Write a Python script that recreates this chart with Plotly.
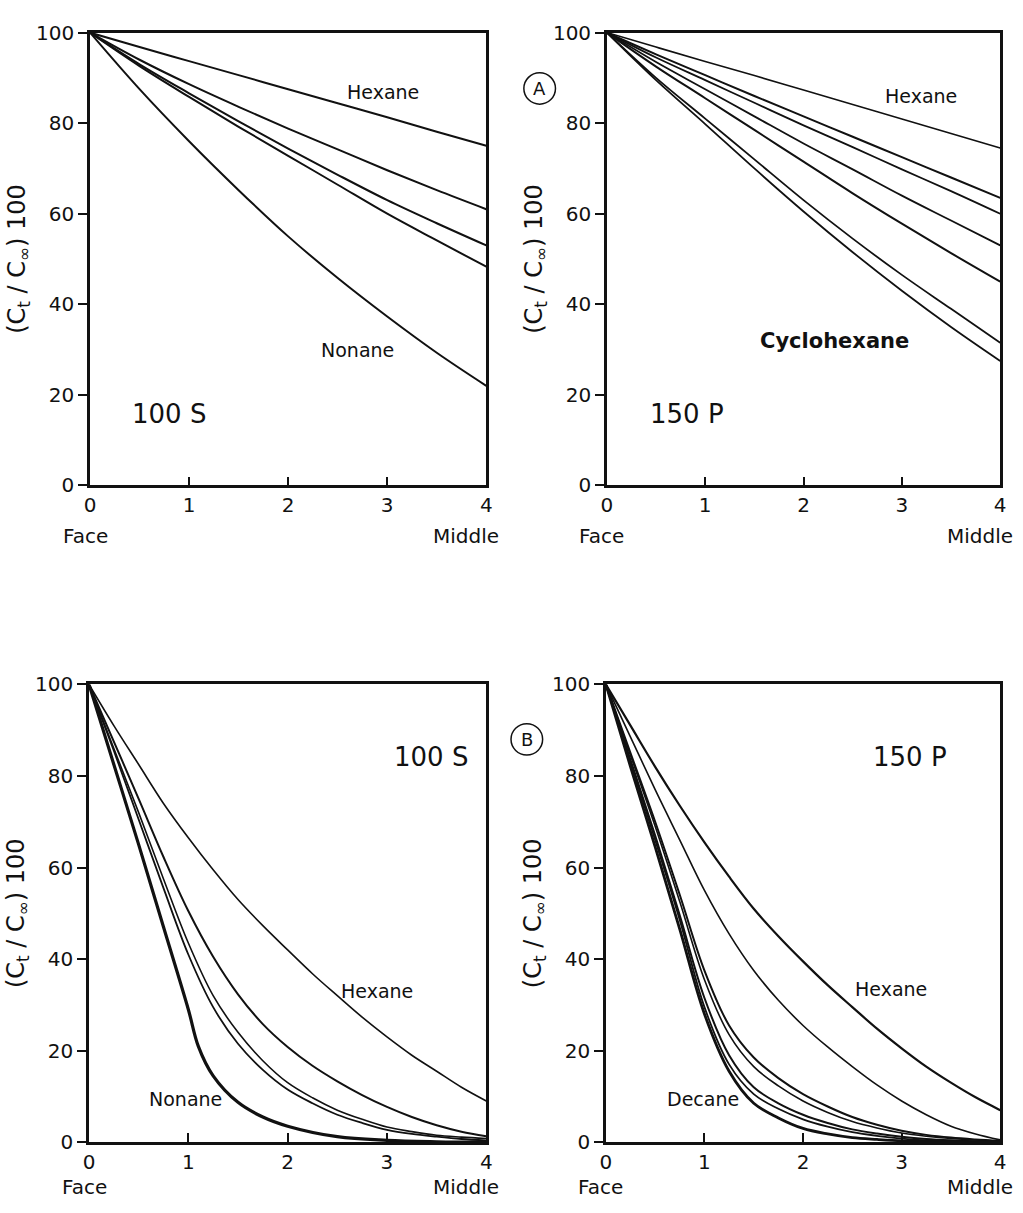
import plotly.graph_objects as go

# ---------------- data ----------------
x_top = [0, 0.5, 1, 1.5, 2, 2.5, 3, 3.5, 4]

# Panel A, 100 S
a100_hexane = [100, 96.8, 93.7, 90.6, 87.5, 84.4, 81.3, 78.1, 75]
a100_c2 = [100, 94.0, 88.6, 83.6, 78.8, 74.2, 69.6, 65.2, 61]
a100_c3 = [100, 93.0, 86.6, 80.4, 74.4, 68.6, 63.0, 57.9, 53]
a100_c4 = [100, 92.6, 85.8, 79.2, 72.8, 66.4, 60.0, 54.1, 48.3]
a100_nonane = [100, 87.5, 76, 65.2, 55, 45.8, 37.3, 29.3, 22]

# Panel A, 150 P
a150_hexane = [100, 96.8, 93.6, 90.5, 87.3, 84.1, 80.9, 77.7, 74.5]
a150_c2 = [100, 95.2, 90.6, 86.0, 81.5, 77.0, 72.5, 68.0, 63.5]
a150_c3 = [100, 94.5, 89.5, 84.5, 79.5, 74.7, 69.8, 65.0, 60]
a150_c4 = [100, 93.5, 87.5, 81.5, 75.5, 69.8, 64.0, 58.5, 53]
a150_c5 = [100, 92.5, 85.5, 78.5, 71.5, 64.5, 57.8, 51.3, 45]
a150_c6 = [100, 90.0, 81.0, 72.0, 63.0, 54.5, 46.5, 39.0, 31.5]
a150_cyclohexane = [100, 89.5, 79.8, 70.0, 60.5, 51.5, 43.0, 35.0, 27.5]

x_bot = [0, 0.25, 0.5, 0.75, 1, 1.25, 1.5, 1.75, 2, 2.25, 2.5, 2.75, 3, 3.25, 3.5, 3.75, 4]

# Panel B, 100 S
b100_hexane = [100, 91, 82.5, 74, 66.5, 59.5, 53, 47.3, 42, 36.8, 32, 27.3, 23, 19, 15.5, 12, 9]
b100_c2 = [100, 87.5, 75, 62.3, 50.5, 40.5, 32.3, 25.8, 20.8, 16.7, 13.3, 10.3, 7.7, 5.5, 3.7, 2.3, 1.3]
b100_c3 = [100, 86, 72, 57.5, 43.5, 32, 24, 17.8, 13, 9.7, 7, 5, 3.3, 2.3, 1.5, 1.1, 0.8]
b100_c4 = [100, 85.5, 70.5, 55.5, 41, 29.5, 21.5, 15.8, 11.5, 8.5, 6, 4.2, 2.7, 1.8, 1.2, 0.7, 0.4]
x_b100_nonane = [0, 0.25, 0.5, 0.75, 1, 1.1, 1.25, 1.5, 1.75, 2, 2.5, 3, 3.5, 4]
b100_nonane = [100, 82.5, 65, 47, 29, 21, 14.5, 8.7, 5.5, 3.5, 1.2, 0.4, 0.1, 0]

# Panel B, 150 P
b150_hexane = [100, 91, 82, 73.5, 65.5, 58, 51, 45, 39.5, 34.3, 29.5, 24.8, 20.5, 16.5, 13, 9.8, 7]
b150_c2 = [100, 88.5, 77, 66, 55, 45.5, 37.5, 31, 25.5, 20.8, 16.5, 12.5, 9, 6, 3.5, 1.8, 0.5]
b150_c3 = [100, 85, 70, 54, 37.5, 25.5, 18.5, 14, 10.5, 7.8, 5.5, 3.8, 2.5, 1.6, 1, 0.6, 0.3]
b150_c4 = [100, 84.5, 69, 52.5, 35.5, 23.5, 16.5, 12.3, 9, 6.5, 4.5, 3.1, 2, 1.3, 0.8, 0.5, 0.2]
b150_c5 = [100, 83.5, 67, 49.5, 31.5, 19, 12, 8.5, 6, 4.2, 2.8, 1.9, 1.2, 0.7, 0.4, 0.2, 0.1]
b150_c6 = [100, 83, 66, 48.5, 29.5, 17, 10.5, 7.3, 5, 3.4, 2.2, 1.4, 0.8, 0.4, 0.2, 0.1, 0]
b150_decane = [100, 82, 64.5, 46.5, 28, 15.5, 8.5, 5.3, 3, 1.8, 1, 0.6, 0.3, 0.2, 0.1, 0.05, 0]

tick_vals_x = [0, 1, 2, 3, 4]
tick_vals_y = [0, 20, 40, 60, 80, 100]

# ---------------- figure ----------------
W, H = 1023, 1213
fig = go.Figure()

FONT = "DejaVu Sans"
BLACK = "#111111"

def add(xs, ys, ax, width=1.6):
    s = "" if ax == 1 else str(ax)
    fig.add_trace(go.Scatter(
        x=xs, y=ys, mode="lines",
        line=dict(color=BLACK, width=width, shape="spline", smoothing=1.0),
        xaxis="x" + s, yaxis="y" + s,
        showlegend=False, hoverinfo="skip"))

# panel 1: A 100S
for ys, w in [(a100_hexane, 2.0), (a100_c2, 2.0), (a100_c3, 2.0), (a100_c4, 2.0), (a100_nonane, 2.0)]:
    add(x_top, ys, 1, w)
# panel 2: A 150P
for ys, w in [(a150_hexane, 1.6), (a150_c2, 2.0), (a150_c3, 1.8), (a150_c4, 1.8),
              (a150_c5, 2.0), (a150_c6, 1.8), (a150_cyclohexane, 1.8)]:
    add(x_top, ys, 2, w)
# panel 3: B 100S
for ys, w in [(b100_hexane, 1.6), (b100_c2, 2.0), (b100_c3, 1.6), (b100_c4, 1.8)]:
    add(x_bot, ys, 3, w)
add(x_b100_nonane, b100_nonane, 3, 3.2)
# panel 4: B 150P
for ys, w in [(b150_hexane, 2.2), (b150_c2, 1.6), (b150_c3, 2.0), (b150_c4, 1.6),
              (b150_c5, 2.0), (b150_c6, 1.8), (b150_decane, 2.8)]:
    add(x_bot, ys, 4, w)

# domains from pixel positions
def px_x(a, b):
    return [a / W, b / W]

def px_y(top, bottom):
    return [1 - bottom / H, 1 - top / H]

doms = {
    1: (px_x(85, 486), px_y(21, 483)),
    2: (px_x(608, 1006), px_y(21, 483)),
    3: (px_x(84, 486), px_y(686, 1153)),
    4: (px_x(607, 1006), px_y(686, 1153)),
}
label_offset = {1: 52, 2: 52, 3: 46, 4: 46}

ytitle = "(C<sub>t</sub> / C<sub>∞</sub>) 100"
layout = dict(
    width=W, height=H,
    margin=dict(l=0, r=0, t=0, b=0),
    paper_bgcolor="white", plot_bgcolor="white",
    font=dict(family=FONT, color=BLACK, size=18),
    showlegend=False,
)
for i, (dx, dy) in doms.items():
    s = "" if i == 1 else str(i)
    layout["xaxis" + s] = dict(
        domain=dx, range=[0, 4], anchor="y" + s,
        tickvals=tick_vals_x, ticktext=[str(v) for v in tick_vals_x],
        ticks="inside", ticklen=9, tickwidth=2, tickcolor=BLACK,
        showline=True, linecolor=BLACK, linewidth=2.5, mirror=True,
        showgrid=False, zeroline=False,
        tickfont=dict(family=FONT, size=20, color=BLACK),
    )
    layout["yaxis" + s] = dict(
        domain=dy, range=[0, 100], anchor="x" + s,
        tickvals=tick_vals_y, ticktext=[str(v) for v in tick_vals_y],
        ticks="outside", ticklen=9, tickwidth=2, tickcolor=BLACK,
        showline=True, linecolor=BLACK, linewidth=2.5, mirror=True,
        showgrid=False, zeroline=False,
        tickfont=dict(family=FONT, size=20, color=BLACK),
        title=dict(text=ytitle, font=dict(family=FONT, size=24, color=BLACK), standoff=4),
    )
fig.update_layout(**layout)

def ann(text, x, y, ax, size=19, **kw):
    s = "" if ax == 1 else str(ax)
    fig.add_annotation(text=text, x=x, y=y, xref="x" + s, yref="y" + s,
                       showarrow=False, font=dict(family=FONT, size=size, color=BLACK), **kw)

ann("Hexane", 2.96, 86.8, 1)
ann("Nonane", 2.7, 29.8, 1)
ann("100 S", 0.8, 15.8, 1, size=26)
ann("Hexane", 3.19, 86.1, 2)
ann("<b>Cyclohexane</b>", 2.31, 32, 2, size=21)
ann("150 P", 0.82, 15.8, 2, size=26)
ann("100 S", 3.44, 84.2, 3, size=26)
ann("Hexane", 2.9, 33, 3)
ann("Nonane", 0.97, 9.5, 3)
ann("150 P", 3.09, 84.2, 4, size=26)
ann("Hexane", 2.89, 33.5, 4)
ann("Decane", 0.99, 9.5, 4)

# Face / Middle labels below x axes (paper coords)
for i, (dx, dy) in doms.items():
    off = label_offset[i]
    fig.add_annotation(text="Face", x=dx[0] - 5 / W, y=dy[0] - off / H, xref="paper", yref="paper",
                       showarrow=False, xanchor="center", yanchor="middle",
                       font=dict(family=FONT, size=20, color=BLACK))
    fig.add_annotation(text="Middle", x=dx[1] + 15 / W, y=dy[0] - off / H, xref="paper", yref="paper",
                       showarrow=False, xanchor="right", yanchor="middle",
                       font=dict(family=FONT, size=20, color=BLACK))

# circled panel letters
for letter, cx, cy in [("A", 540, 78), ("B", 527, 742)]:
    r = 16
    fig.add_shape(type="circle", xref="paper", yref="paper",
                  x0=(cx - r) / W, x1=(cx + r) / W, y0=1 - (cy + r) / H, y1=1 - (cy - r) / H,
                  line=dict(color=BLACK, width=1.5))
    fig.add_annotation(text=letter, x=cx / W, y=1 - cy / H, xref="paper", yref="paper",
                       xanchor="center", yanchor="middle",
                       showarrow=False, font=dict(family=FONT, size=18, color=BLACK))

fig.write_html("out.html")
